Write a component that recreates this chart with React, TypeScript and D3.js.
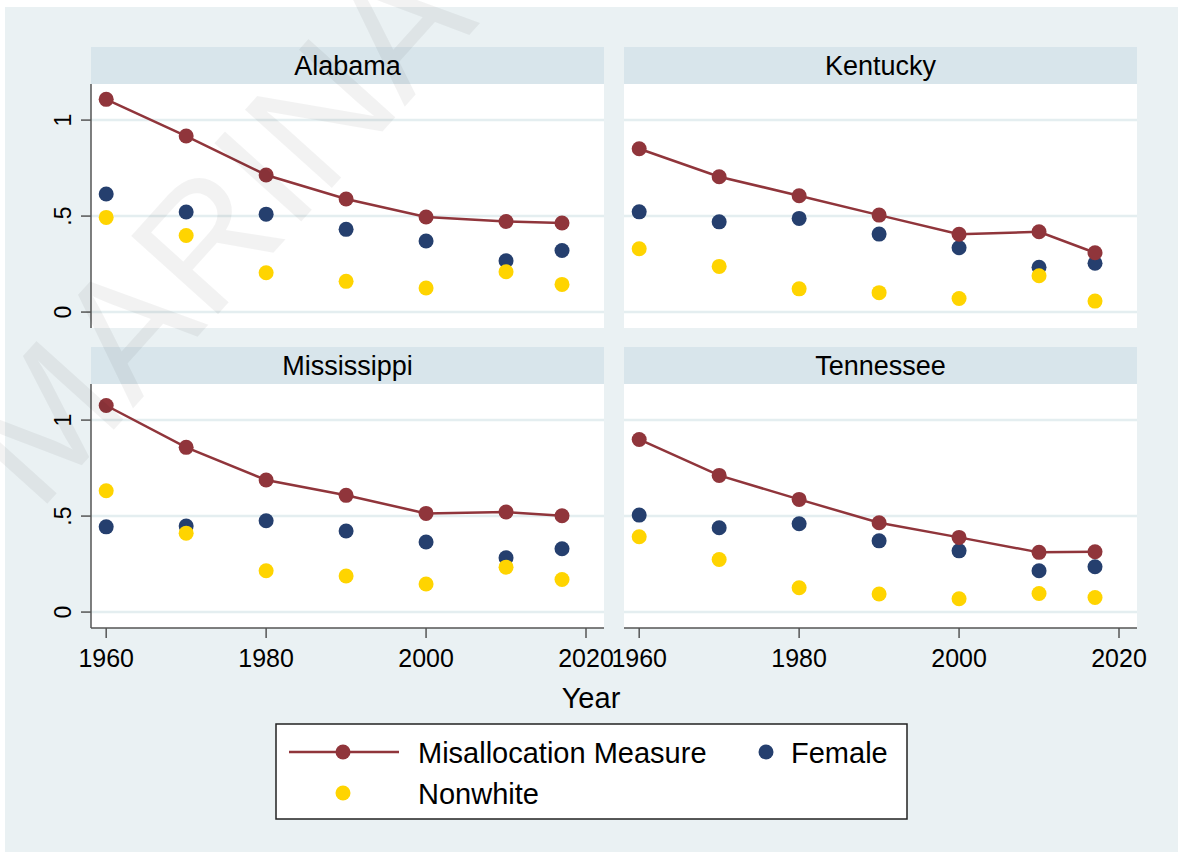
import { useEffect, useRef } from 'react';
import * as d3 from 'd3';

// values
const years = [1960, 1970, 1980, 1990, 2000, 2010, 2017];
const states = ['Alabama', 'Kentucky', 'Mississippi', 'Tennessee'];

const misallocation = [
    [1.108, 0.917, 0.714, 0.589, 0.495, 0.472, 0.464],
    [0.851, 0.705, 0.606, 0.505, 0.405, 0.418, 0.309],
    [1.076, 0.858, 0.688, 0.608, 0.514, 0.521, 0.502],
    [0.899, 0.712, 0.587, 0.465, 0.389, 0.311, 0.314],
];
const female = [
    [0.615, 0.521, 0.510, 0.431, 0.370, 0.267, 0.321],
    [0.522, 0.470, 0.488, 0.406, 0.335, 0.233, 0.254],
    [0.444, 0.448, 0.476, 0.422, 0.365, 0.283, 0.330],
    [0.505, 0.439, 0.460, 0.371, 0.319, 0.215, 0.236],
];
const nonwhite = [
    [0.493, 0.399, 0.205, 0.160, 0.125, 0.210, 0.144],
    [0.330, 0.238, 0.121, 0.101, 0.071, 0.189, 0.057],
    [0.632, 0.411, 0.215, 0.188, 0.146, 0.234, 0.170],
    [0.392, 0.274, 0.127, 0.094, 0.069, 0.097, 0.076],
];

const xTicks = [1960, 1980, 2000, 2020];
const yTicks = [0, 0.5, 1];
const yTickLabels = ['0', '.5', '1'];
const legendLabels = ['Misallocation Measure', 'Female', 'Nonwhite'];

const FONT = '"Liberation Sans", Arial, sans-serif';
const MAROON = '#90353b';
const NAVY = '#253f6e';
const GOLD = '#ffd400';

export default function App() {
    const ref = useRef<SVGSVGElement | null>(null);

    useEffect(() => {
        const svg = d3.select(ref.current);
        svg.selectAll('*').remove();

        // graph background
        svg.append('rect')
            .attr('x', 5).attr('y', 7)
            .attr('width', 1173).attr('height', 845)
            .attr('fill', '#eaf1f3');

        const plotW = 513;
        const plotH = 244;
        const stripH = 37;
        const colX = [91, 624];
        const rowY = [47, 347];

        const x = d3.scaleLinear().domain([1958.1, 2022.25]).range([0, plotW]);
        const y = d3.scaleLinear().domain([-0.083, 1.188]).range([plotH, 0]);

        states.forEach((name, i) => {
            const col = i % 2;
            const row = Math.floor(i / 2);
            const g = svg.append('g')
                .attr('transform', `translate(${colX[col]},${rowY[row]})`);

            // strip
            g.append('rect')
                .attr('width', plotW).attr('height', stripH)
                .attr('fill', '#d8e5eb');
            g.append('text')
                .attr('x', plotW / 2).attr('y', stripH / 2 + 9.5)
                .attr('text-anchor', 'middle')
                .attr('font-family', FONT).attr('font-size', 27)
                .text(name);

            const p = g.append('g').attr('transform', `translate(0,${stripH})`);
            p.append('rect')
                .attr('width', plotW).attr('height', plotH)
                .attr('fill', 'white');

            // gridlines
            p.selectAll('.grid')
                .data(yTicks)
                .join('line')
                .attr('x1', 0).attr('x2', plotW)
                .attr('y1', d => y(d)).attr('y2', d => y(d))
                .attr('stroke', '#e4eef0')
                .attr('stroke-width', 2.5);

            // y axis only on the left column
            if (col === 0) {
                p.append('line')
                    .attr('x1', 0).attr('x2', 0)
                    .attr('y1', 0).attr('y2', plotH)
                    .attr('stroke', '#555').attr('stroke-width', 1.5);
                yTicks.forEach((t, k) => {
                    p.append('line')
                        .attr('x1', -10).attr('x2', 0)
                        .attr('y1', y(t)).attr('y2', y(t))
                        .attr('stroke', '#555').attr('stroke-width', 1.5);
                    p.append('text')
                        .attr('transform', `translate(-20,${y(t)}) rotate(-90)`)
                        .attr('text-anchor', 'middle')
                        .attr('font-family', FONT).attr('font-size', 23)
                        .text(yTickLabels[k]);
                });
            }

            // x axis only on the bottom row
            if (row === 1) {
                p.append('line')
                    .attr('x1', 0).attr('x2', plotW)
                    .attr('y1', plotH).attr('y2', plotH)
                    .attr('stroke', '#555').attr('stroke-width', 1.5);
                xTicks.forEach(t => {
                    p.append('line')
                        .attr('x1', x(t)).attr('x2', x(t))
                        .attr('y1', plotH).attr('y2', plotH + 10)
                        .attr('stroke', '#555').attr('stroke-width', 1.5);
                    p.append('text')
                        .attr('x', x(t)).attr('y', plotH + 39)
                        .attr('text-anchor', 'middle')
                        .attr('font-family', FONT).attr('font-size', 25)
                        .text(String(t));
                });
            }

            const line = d3.line<number>()
                .x((d, k) => x(years[k]))
                .y(d => y(d));

            p.append('path')
                .datum(misallocation[i])
                .attr('fill', 'none')
                .attr('stroke', MAROON)
                .attr('stroke-width', 2.5)
                .attr('d', line);

            p.selectAll('.fem')
                .data(female[i])
                .join('circle')
                .attr('cx', (d, k) => x(years[k]))
                .attr('cy', d => y(d))
                .attr('r', 7.5)
                .attr('fill', NAVY);

            p.selectAll('.nonw')
                .data(nonwhite[i])
                .join('circle')
                .attr('cx', (d, k) => x(years[k]))
                .attr('cy', d => y(d))
                .attr('r', 7.5)
                .attr('fill', GOLD);

            p.selectAll('.mis')
                .data(misallocation[i])
                .join('circle')
                .attr('cx', (d, k) => x(years[k]))
                .attr('cy', d => y(d))
                .attr('r', 7.5)
                .attr('fill', MAROON);
        });

        // x axis title
        svg.append('text')
            .attr('x', 591).attr('y', 708)
            .attr('text-anchor', 'middle')
            .attr('font-family', FONT).attr('font-size', 29)
            .text('Year');

        // legend
        const lg = svg.append('g');
        lg.append('rect')
            .attr('x', 276).attr('y', 724)
            .attr('width', 631).attr('height', 95)
            .attr('fill', 'white')
            .attr('stroke', '#222').attr('stroke-width', 1.5);
        lg.append('line')
            .attr('x1', 289).attr('x2', 399)
            .attr('y1', 752).attr('y2', 752)
            .attr('stroke', MAROON).attr('stroke-width', 2.5);
        lg.append('circle').attr('cx', 343).attr('cy', 752).attr('r', 7.5).attr('fill', MAROON);
        lg.append('circle').attr('cx', 766).attr('cy', 752).attr('r', 7.5).attr('fill', NAVY);
        lg.append('circle').attr('cx', 343).attr('cy', 793).attr('r', 7.5).attr('fill', GOLD);
        const legendPos = [[418, 752], [791, 752], [418, 793]];
        legendLabels.forEach((t, k) => {
            lg.append('text')
                .attr('x', legendPos[k][0]).attr('y', legendPos[k][1] + 10.5)
                .attr('font-family', FONT).attr('font-size', 29)
                .text(t);
        });

        // watermark
        svg.append('text')
            .attr('transform', 'translate(38,514) rotate(-48)')
            .attr('font-family', FONT).attr('font-size', 170)
            .attr('fill', 'rgba(0,0,0,0.05)')
            .text('MARINA');
    }, []);

    return (
        <svg
            ref={ref}
            width={1178}
            height={855}
            style={{ position: 'absolute', left: 0, top: 0, background: 'white' }}
        ></svg>
    );
}
